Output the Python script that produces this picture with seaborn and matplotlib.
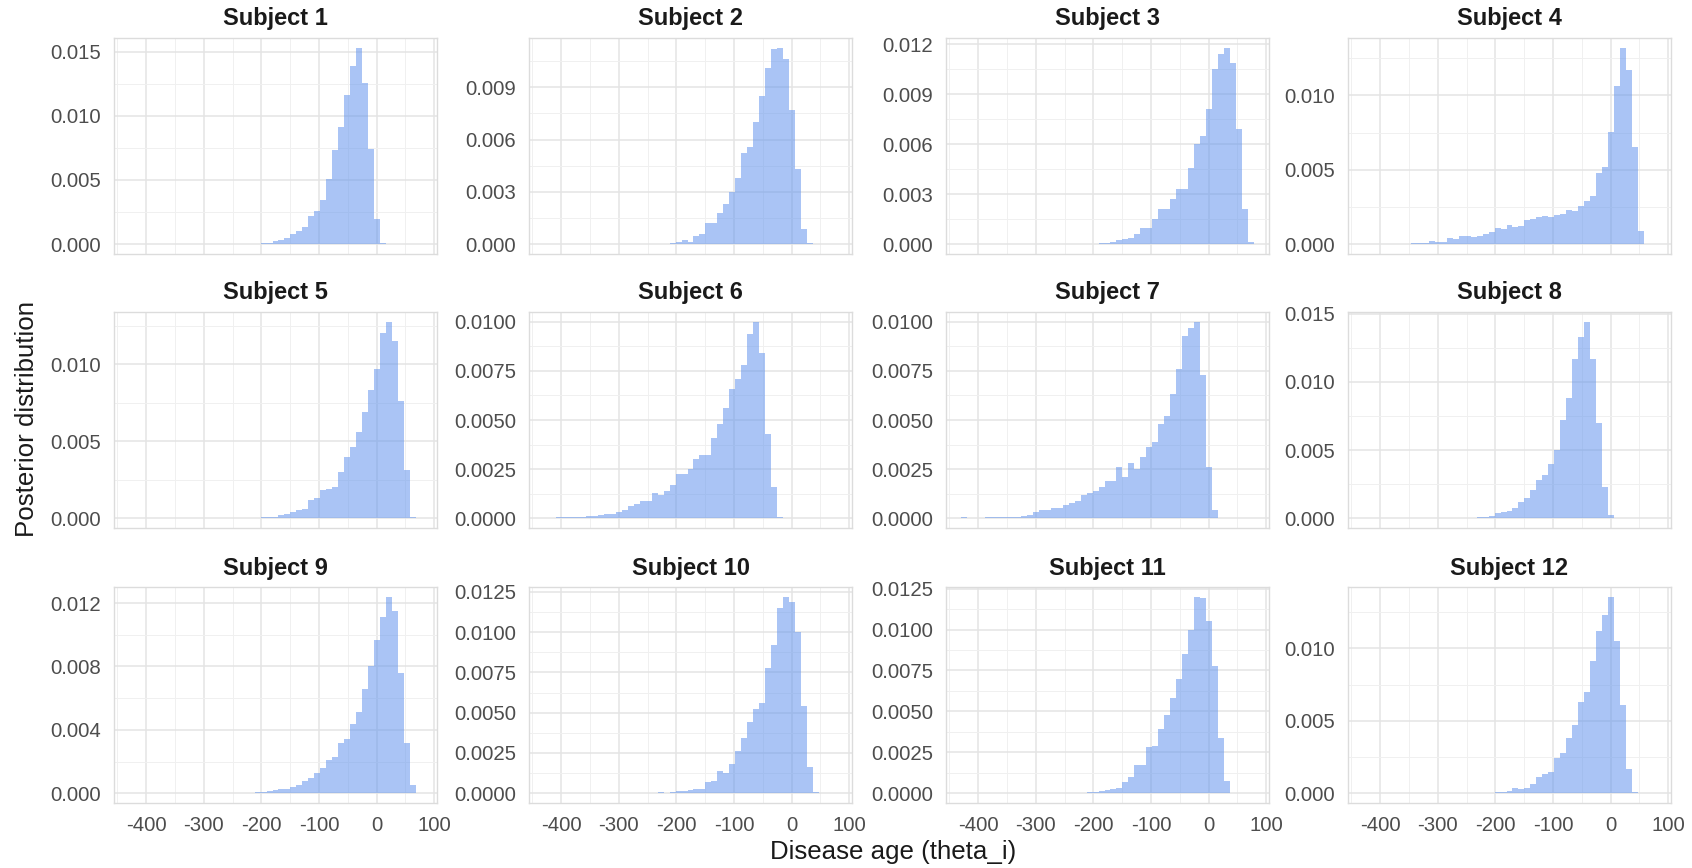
import numpy as np
import pandas as pd
import matplotlib
matplotlib.use("Agg")
import matplotlib.pyplot as plt
import seaborn as sns
from matplotlib.ticker import MultipleLocator, FormatStrFormatter

# ---------------- data (posterior density per histogram bin) ----------------
BIN_START = -430.4
BIN_WIDTH = 10.4
N_BINS = 49

subjects = [f"Subject {i}" for i in range(1, 13)]

# first bin index of each subject's non-empty run, then densities
s1_first = 22
s1 = [0.00008, 0.00013, 0.00026, 0.00034, 0.00052, 0.00078, 0.00104, 0.00135, 0.00216, 0.0026,
      0.00346, 0.00508, 0.00737, 0.00911, 0.01164, 0.01385, 0.01529, 0.01258, 0.0074, 0.00195, 0.0001]
s2_first = 21
s2 = [0.00006, 0.00013, 0.00023, 0.00015, 0.00048, 0.00057, 0.0012, 0.0012, 0.0018, 0.0023,
      0.0030, 0.0038, 0.0052, 0.0056, 0.0070, 0.0085, 0.0101, 0.0112, 0.01126, 0.0106,
      0.0077, 0.0043, 0.00086, 0.00005]
s3_first = 22
s3 = [0.00004, 0.00006, 0.0001, 0.00016, 0.00026, 0.00034, 0.0004, 0.0006, 0.001, 0.00095,
      0.0015, 0.0021, 0.0021, 0.0027, 0.0033, 0.0033, 0.0046, 0.006, 0.0065, 0.0081,
      0.0105, 0.0114, 0.0118, 0.0109, 0.0069, 0.0021, 0.00014]
s4_first = 7
s4 = [0.00004, 0.0001, 0.00007, 0.0001, 0.00022, 0.00016, 0.00016, 0.0004, 0.00034, 0.00056,
      0.00056, 0.0005, 0.00056, 0.00067, 0.0008, 0.00106, 0.001, 0.0013, 0.00117, 0.00124,
      0.00164, 0.0017, 0.0018, 0.0019, 0.0018, 0.00195, 0.002, 0.0023, 0.00225, 0.0026,
      0.0029, 0.00326, 0.0048, 0.0052, 0.00753, 0.01063, 0.0132, 0.01173, 0.00656, 0.0009]
s5_first = 19
s5 = [0.00003, 0.0, 0.00004, 0.00005, 0.00008, 0.0001, 0.00018, 0.0003, 0.0004, 0.0005,
      0.0006, 0.0012, 0.0013, 0.0018, 0.0019, 0.002, 0.003, 0.004, 0.0046, 0.0056,
      0.0069, 0.0083, 0.0097, 0.012, 0.01275, 0.0115, 0.0076, 0.0031, 0.0001]
s6_first = 2
s6 = [0.00004, 0.00005, 0.00005, 0.00008, 0.00008, 0.0001, 0.00013, 0.00017, 0.0002, 0.0002,
      0.0003, 0.0004, 0.0006, 0.0007, 0.00085, 0.0009, 0.0013, 0.0012, 0.0014, 0.0017,
      0.00225, 0.00225, 0.0025, 0.0030, 0.0032, 0.0032, 0.0041, 0.0048, 0.0056, 0.0066,
      0.0071, 0.0078, 0.0094, 0.0100, 0.0084, 0.0043, 0.0016, 0.00005, 0.00003]
s7_first = 0
s7 = [0.00004, 0.0, 0.0, 0.0, 0.00004, 0.00005, 0.00005, 0.00006, 0.00006, 0.00008,
      0.00012, 0.00014, 0.00034, 0.0004, 0.00042, 0.0005, 0.00054, 0.00068, 0.00076, 0.00085,
      0.0012, 0.0013, 0.0014, 0.0016, 0.0019, 0.0019, 0.0026, 0.0021, 0.0028, 0.0025,
      0.0031, 0.0036, 0.0039, 0.0048, 0.0052, 0.0063, 0.0076, 0.0093, 0.0097, 0.0100,
      0.0073, 0.0026, 0.0004]
s8_first = 19
s8 = [0.00007, 0.00012, 0.00017, 0.0004, 0.00044, 0.00056, 0.00073, 0.0012, 0.0015, 0.0021,
      0.0028, 0.0032, 0.004, 0.005, 0.0072, 0.0088, 0.0117, 0.0133, 0.0144, 0.0117,
      0.007, 0.0023, 0.0002]
s9_first = 18
s9 = [0.00003, 0.00002, 0.00004, 0.00006, 0.0001, 0.00015, 0.0002, 0.00025, 0.00027, 0.00038,
      0.00053, 0.00078, 0.00095, 0.0013, 0.0016, 0.0021, 0.0023, 0.0032, 0.0034, 0.0044,
      0.0051, 0.0066, 0.008, 0.0097, 0.0111, 0.0124, 0.0115, 0.0076, 0.0032, 0.0005]
s10_first = 19
s10 = [0.00005, 0.00003, 0.0001, 0.00012, 0.00015, 0.0002, 0.00023, 0.00027, 0.0007, 0.00073,
       0.0014, 0.00125, 0.0018, 0.0026, 0.0034, 0.0044, 0.0052, 0.0056, 0.0078, 0.0092,
       0.0115, 0.0122, 0.0119, 0.01, 0.0054, 0.0016, 0.0001]
s11_first = 20
s11 = [0.00004, 0.00006, 0.0001, 0.00014, 0.0002, 0.00027, 0.0003, 0.0007, 0.001, 0.0017,
       0.0017, 0.0028, 0.0029, 0.0039, 0.0048, 0.0058, 0.007, 0.0085, 0.01, 0.012,
       0.0119, 0.0105, 0.0078, 0.0034, 0.00075, 0.00004]
s12_first = 22
s12 = [0.0001, 0.00011, 0.00018, 0.00034, 0.0003, 0.00034, 0.0006, 0.0011, 0.0013, 0.00145,
       0.0024, 0.00276, 0.0038, 0.0047, 0.0063, 0.007, 0.0091, 0.0112, 0.0123, 0.01356,
       0.0105, 0.0061, 0.00166, 0.0001]

first_bins = [s1_first, s2_first, s3_first, s4_first, s5_first, s6_first,
              s7_first, s8_first, s9_first, s10_first, s11_first, s12_first]
densities = [s1, s2, s3, s4, s5, s6, s7, s8, s9, s10, s11, s12]

# y-axis break spacing per subject (free y scales)
y_break_step = [0.005, 0.003, 0.003, 0.005, 0.005, 0.0025,
                0.0025, 0.005, 0.004, 0.0025, 0.0025, 0.005]
x_breaks = [-400, -300, -200, -100, 0, 100]

x_label = "Disease age (theta_i)"
y_label = "Posterior distribution"

# ---------------- build long table ----------------
edges = BIN_START + BIN_WIDTH * np.arange(N_BINS + 1)
centers = edges[:-1] + BIN_WIDTH / 2
rows = []
for name, fb, dens in zip(subjects, first_bins, densities):
    for j, d in enumerate(dens):
        rows.append({"subject": name, "age": float(centers[fb + j]), "density": d})
df = pd.DataFrame(rows)
bin_list = [float(e) for e in edges]

# ---------------- style ----------------
sns.set_theme(style="white")
plt.rcParams["font.family"] = ["Liberation Sans", "DejaVu Sans"]
plt.rcParams["axes.unicode_minus"] = False

W, H = 1692, 868
fig = plt.figure(figsize=(W / 100, H / 100), dpi=100)

col_left = [114, 529, 946, 1348]
row_top = [38, 312, 587]
pw, ph = 323, 216

span = edges[-1] - edges[0]
xlim = (edges[0] - 0.05 * span, edges[-1] + 0.05 * span)

for idx, name in enumerate(subjects):
    r, c = divmod(idx, 4)
    ax = fig.add_axes([col_left[c] / W, 1 - (row_top[r] + ph) / H, pw / W, ph / H])
    sub = df[df["subject"] == name]
    sns.histplot(data=sub, x="age", weights="density", bins=bin_list, stat="count",
                 element="step", fill=True, color="#6495ED", alpha=0.55,
                 linewidth=0, ax=ax)
    m = max(densities[idx])
    ax.set_ylim(-0.05 * m, 1.05 * m)
    ax.set_xlim(*xlim)
    step = y_break_step[idx]
    ax.yaxis.set_major_locator(MultipleLocator(step))
    ax.yaxis.set_minor_locator(MultipleLocator(step / 2))
    dec = 4 if round(step * 1e4) % 10 else 3
    ax.yaxis.set_major_formatter(FormatStrFormatter(f"%.{dec}f"))
    ax.set_xticks(x_breaks)
    ax.xaxis.set_minor_locator(MultipleLocator(50))
    ax.set_axisbelow(True)
    ax.grid(which="major", color="#E4E4E4", linewidth=1.1)
    ax.grid(which="minor", color="#F0F0F0", linewidth=0.7)
    for sp in ax.spines.values():
        sp.set_visible(True)
        sp.set_color("#DCDCDC")
        sp.set_linewidth(1.0)
    ax.tick_params(which="both", length=0, pad=9.5, labelsize=14.7, colors="#4D4D4D")
    if r < 2:
        ax.tick_params(axis="x", labelbottom=False)
    ax.set_xlabel("")
    ax.set_ylabel("")
    ax.set_title(name, fontsize=17, fontweight="bold", color="#1A1A1A", pad=9)

fig.text(893 / W, 1 - 852 / H, x_label, ha="center", va="center",
         fontsize=18.6, color="#1A1A1A")
fig.text(27 / W, 1 - 419 / H, y_label, ha="center", va="center",
         rotation=90, fontsize=18.6, color="#1A1A1A")

fig.savefig("out.png", dpi=100)
